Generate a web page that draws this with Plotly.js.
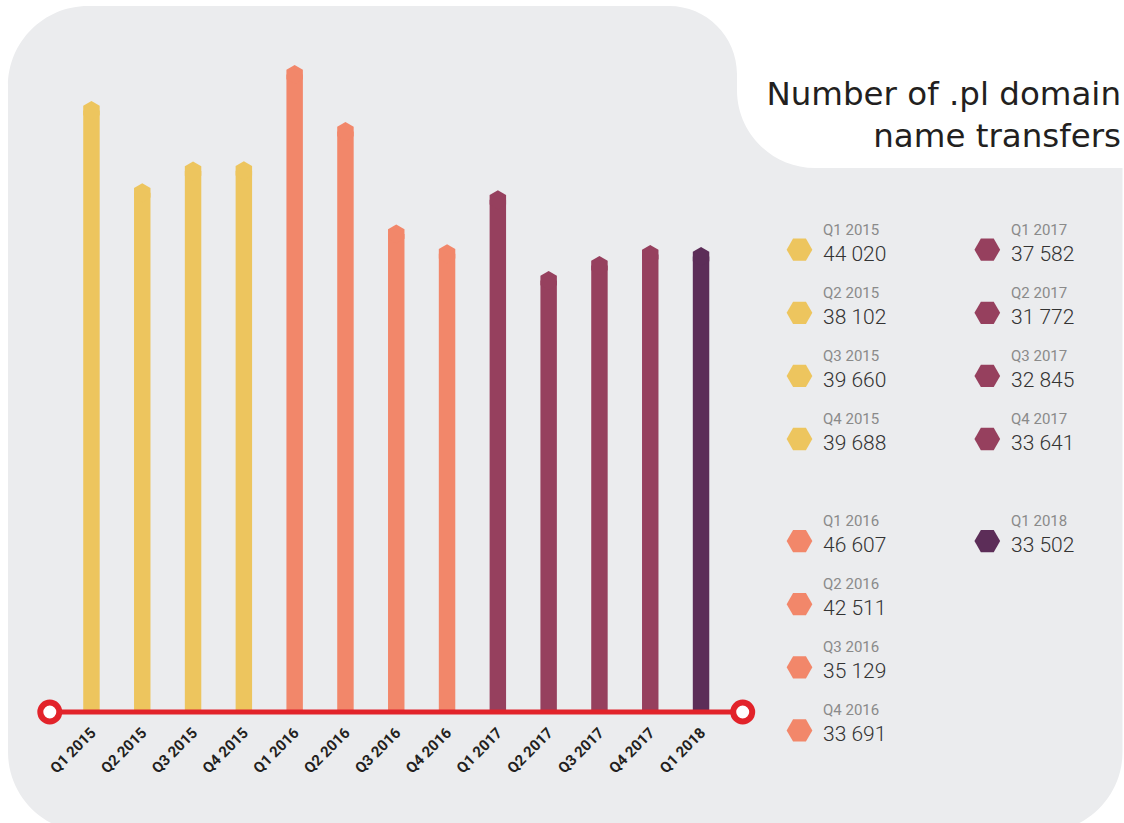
<!DOCTYPE html>
<html><head><meta charset="utf-8">
<script src="https://cdn.plot.ly/plotly-3.0.1.min.js"></script>
<style>html,body{margin:0;padding:0;background:#fff}</style>
</head><body><div id="chart" style="width:1124px;height:823px"></div>
<script>
// ---- data ----
const quarters = ['Q1 2015','Q2 2015','Q3 2015','Q4 2015','Q1 2016','Q2 2016','Q3 2016','Q4 2016','Q1 2017','Q2 2017','Q3 2017','Q4 2017','Q1 2018'];
const transfers = [44020, 38102, 39660, 39688, 46607, 42511, 35129, 33691, 37582, 31772, 32845, 33641, 33502];
const titleText = 'Number of .pl domain<br>name transfers';

// ---- styles ----
const yearColors = {'2015':'#EDC55E','2016':'#F2876A','2017':'#96405E','2018':'#5C2D58'};
const years = quarters.map(q => q.split(' ')[1]);
const colors = years.map(y => yearColors[y]);
const idx = quarters.map((_, i) => i);

const W = 1124, H = 823;
const plotLeft = 30.5, plotRight = 762, plotTop = 18, baseY = 712;
const xRange = [-1.2, quarters.length - 1 + 1.2];
const yTop = 50000, yBottom = -3000;
const pxPerX = (plotRight - plotLeft) / (xRange[1] - xRange[0]);
const pxPerY = (baseY - plotTop) / yTop;
const plotBottom = baseY - yBottom * pxPerY;
const capSize = 19, capR = capSize / 2;
const barWidth = (2 * capR * Math.sqrt(3) / 2) / pxPerX;
const capCenters = transfers.map(v => v - capR / pxPerY);
const fmt = v => String(v).replace(/\B(?=(\d{3})+(?!\d))/g, ' ');

// background shape in pixels -> paper
function bgPath() {
  const k = 0.5523;
  const P = (x, y) => (x / W).toFixed(5) + ',' + (1 - y / H).toFixed(5);
  const L = 8, T = 6, R = 1122.5, B = 832, r = 80, r2 = 68, r3 = 78, nx = 737, nb = 168;
  let d = 'M' + P(L, T + r);
  d += ' C' + P(L, T + r - k * r) + ' ' + P(L + r - k * r, T) + ' ' + P(L + r, T);
  d += ' L' + P(nx - r2, T);
  d += ' C' + P(nx - r2 + k * r2, T) + ' ' + P(nx, T + r2 - k * r2) + ' ' + P(nx, T + r2);
  d += ' L' + P(nx, nb - r3);
  d += ' C' + P(nx, nb - r3 + k * r3) + ' ' + P(nx + r3 - k * r3, nb) + ' ' + P(nx + r3, nb);
  d += ' L' + P(R, nb);
  d += ' L' + P(R, B - r);
  d += ' C' + P(R, B - r + k * r) + ' ' + P(R - r + k * r, B) + ' ' + P(R - r, B);
  d += ' L' + P(L + r, B);
  d += ' C' + P(L + r - k * r, B) + ' ' + P(L, B - r + k * r) + ' ' + P(L, B - r) + ' Z';
  return d;
}

// legend layout (pixels)
const legCol = i => (i < 8 ? 0 : 1);
const legRow = i => (i < 8 ? i : i - 8);
const legMarkerX = [799.5, 987.3], legTextX = [820.7, 1008.7];
const legY = i => { const r = legRow(i); return 249.7 + 63.1 * r + (r >= 4 ? 39 : 0); };

const traces = [
  { type: 'bar', x: idx, y: capCenters, width: barWidth, marker: { color: colors, line: { width: 0 } },
    hoverinfo: 'skip', showlegend: false },
  { type: 'scatter', mode: 'markers', x: idx, y: capCenters, cliponaxis: false,
    marker: { symbol: 'hexagon', size: capSize, color: colors, line: { width: 0 } },
    customdata: transfers, text: quarters, hovertemplate: '%{text}: %{customdata}<extra></extra>', showlegend: false },
  { type: 'scatter', mode: 'lines+markers', x: [xRange[0] + 0.38, xRange[1] - 0.38], y: [0, 0], cliponaxis: false,
    line: { color: '#E2232A', width: 5 },
    marker: { symbol: 'circle', size: 19, color: '#ffffff', line: { color: '#E2232A', width: 6 } },
    hoverinfo: 'skip', showlegend: false },
  { type: 'scatter', mode: 'markers', xaxis: 'x2', yaxis: 'y2',
    x: idx.map(i => legMarkerX[legCol(i)]), y: idx.map(legY), cliponaxis: false,
    marker: { symbol: 'hexagon2', size: 25.7, color: colors, line: { width: 0 } },
    hoverinfo: 'skip', showlegend: false }
];

const annotations = [];
idx.forEach(i => {
  const tx = legTextX[legCol(i)] / W;
  annotations.push({ xref: 'paper', yref: 'paper', x: tx, y: 1 - (legY(i) - 20) / H,
    xanchor: 'left', yanchor: 'middle', showarrow: false, text: quarters[i],
    font: { family: 'Roboto', size: 15, color: '#8a8a8a' } });
  annotations.push({ xref: 'paper', yref: 'paper', x: tx, y: 1 - (legY(i) + 4) / H,
    xanchor: 'left', yanchor: 'middle', showarrow: false, text: fmt(transfers[i]),
    font: { family: 'Roboto', size: 21, weight: 300, color: '#333333' } });
});

const layout = {
  width: W, height: H,
  margin: { l: 0, r: 0, t: 0, b: 0, pad: 0 },
  paper_bgcolor: '#ffffff', plot_bgcolor: 'rgba(0,0,0,0)',
  showlegend: false,
  title: { text: titleText, x: 1121 / W, xref: 'paper', xanchor: 'right', y: 1 - 105 / H, yref: 'container', yanchor: 'top',
    font: { family: 'DejaVu Sans', size: 32.5, color: '#231f20' } },
  xaxis: { domain: [plotLeft / W, plotRight / W], range: xRange, tickvals: idx, ticktext: quarters,
    anchor: 'free', position: 1 - baseY / H, ticklabelstandoff: 8,
    tickangle: -45, ticks: '', showgrid: false, zeroline: false, showline: false, fixedrange: true,
    tickfont: { family: 'Roboto', size: 15, color: '#231f20', weight: 'bold' } },
  yaxis: { domain: [1 - plotBottom / H, 1 - plotTop / H], range: [yBottom, yTop], visible: false, showgrid: false, zeroline: false, fixedrange: true },
  xaxis2: { domain: [0, 1], range: [0, W], visible: false, anchor: 'y2', fixedrange: true },
  yaxis2: { domain: [0, 1], range: [H, 0], visible: false, anchor: 'x2', fixedrange: true },
  shapes: [{ type: 'path', xref: 'paper', yref: 'paper', path: bgPath(), fillcolor: '#EBECEE', line: { width: 0 }, layer: 'below' }],
  annotations: annotations
};

Plotly.newPlot('chart', traces, layout, { displayModeBar: false, responsive: false });
</script>
</body></html>
